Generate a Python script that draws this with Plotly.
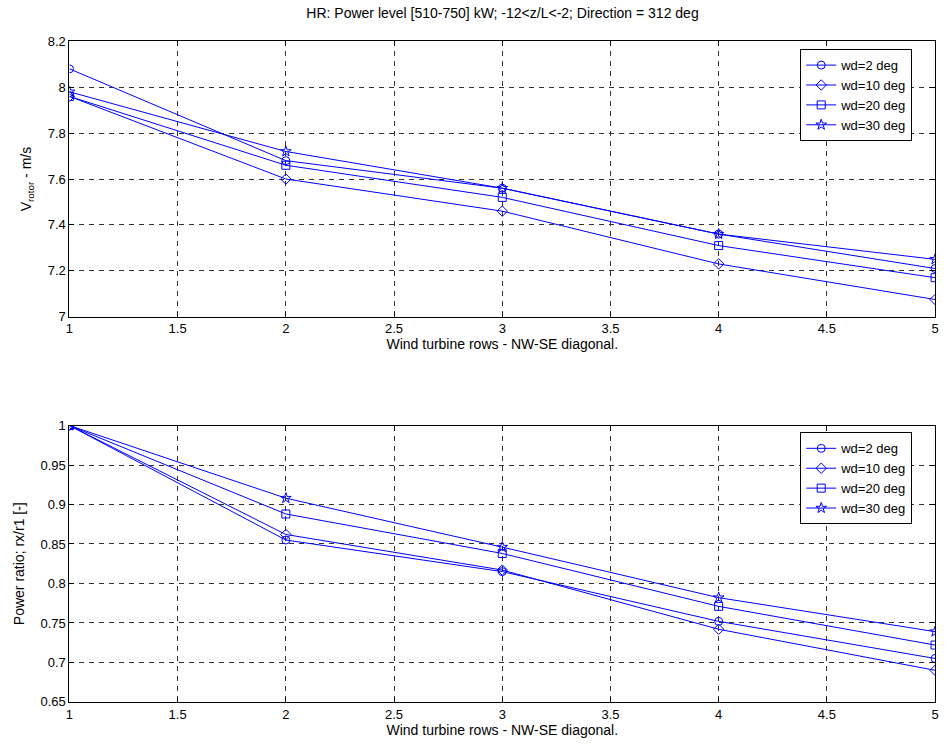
import plotly.graph_objects as go

rows = [1, 2, 3, 4, 5]
names = ["wd=2 deg", "wd=10 deg", "wd=20 deg", "wd=30 deg"]
symbols = ["circle-open", "diamond-open", "square-open", "star-open"]

v_rotor = [
    [8.08, 7.68, 7.56, 7.36, 7.21],
    [7.96, 7.60, 7.46, 7.23, 7.075],
    [7.96, 7.66, 7.52, 7.31, 7.17],
    [7.98, 7.72, 7.56, 7.36, 7.25],
]
power_ratio = [
    [1.0, 0.855, 0.815, 0.752, 0.705],
    [1.0, 0.862, 0.817, 0.742, 0.690],
    [1.0, 0.888, 0.838, 0.771, 0.722],
    [1.0, 0.908, 0.846, 0.782, 0.739],
]

x_ticks = [1, 1.5, 2, 2.5, 3, 3.5, 4, 4.5, 5]
x_ticktext = ["1", "1.5", "2", "2.5", "3", "3.5", "4", "4.5", "5"]
top_ticks = [7, 7.2, 7.4, 7.6, 7.8, 8, 8.2]
top_ticktext = ["7", "7.2", "7.4", "7.6", "7.8", "8", "8.2"]
bot_ticks = [0.65, 0.7, 0.75, 0.8, 0.85, 0.9, 0.95, 1]
bot_ticktext = ["0.65", "0.7", "0.75", "0.8", "0.85", "0.9", "0.95", "1"]

BLUE = "#0000ff"
fig = go.Figure()
for i in range(4):
    fig.add_trace(go.Scatter(x=rows, y=v_rotor[i], mode="lines+markers", name=names[i],
                             line=dict(color=BLUE, width=1),
                             marker=dict(symbol=symbols[i], size=8, color=BLUE, line=dict(width=1, color=BLUE)),
                             xaxis="x", yaxis="y", legend="legend"))
for i in range(4):
    fig.add_trace(go.Scatter(x=rows, y=power_ratio[i], mode="lines+markers", name=names[i],
                             line=dict(color=BLUE, width=1),
                             marker=dict(symbol=symbols[i], size=8, color=BLUE, line=dict(width=1, color=BLUE)),
                             xaxis="x2", yaxis="y2", legend="legend2"))

FAM = "Liberation Sans, Arial, sans-serif"
font = dict(family=FAM, size=13, color="black")
tfont = dict(family=FAM, size=14, color="black")
axcommon = dict(showline=True, linecolor="black", linewidth=1, mirror="ticks",
                ticks="inside", ticklen=5, tickcolor="black",
                showgrid=True, gridcolor="#333333", griddash="5px,5px", gridwidth=1,
                zeroline=False, tickfont=font)

W, H = 949, 755
xd = [66 / W, 939 / W]
fig.update_layout(
    width=W, height=H, margin=dict(l=0, r=0, t=0, b=0),
    paper_bgcolor="white", plot_bgcolor="white", font=font,
    title=dict(text="HR: Power level [510-750] kW; -12<z/L<-2; Direction = 312 deg",
               x=(66 + 939) / 2 / W, xanchor="center", y=1 - 13 / H, yanchor="middle",
               font=dict(family=FAM, size=14, color="black")),
    xaxis=dict(domain=xd, range=[1, 5], tickvals=x_ticks, ticktext=x_ticktext, anchor="y",
               title=dict(text="Wind turbine rows - NW-SE diagonal.", standoff=1, font=tfont), **axcommon),
    yaxis=dict(domain=[1 - 316 / H, 1 - 35 / H], range=[7, 8.2], tickvals=top_ticks, ticktext=top_ticktext,
               anchor="x", title=dict(text="V<sub>rotor</sub> - m/s", standoff=12, font=tfont), **axcommon),
    xaxis2=dict(domain=xd, range=[1, 5], tickvals=x_ticks, ticktext=x_ticktext, anchor="y2",
                title=dict(text="Wind turbine rows - NW-SE diagonal.", standoff=1, font=tfont), **axcommon),
    yaxis2=dict(domain=[1 - 709 / H, 1 - 427 / H], range=[0.65, 1], tickvals=bot_ticks, ticktext=bot_ticktext,
                anchor="x2", title=dict(text="Power ratio; rx/r1 [-]", standoff=12, font=tfont), **axcommon),
    legend=dict(x=803 / W, y=1 - 43 / H, xanchor="left", yanchor="top", bgcolor="white",
                bordercolor="black", borderwidth=1, font=font, tracegroupgap=0, itemwidth=30),
    legend2=dict(x=803 / W, y=1 - 434 / H, xanchor="left", yanchor="top", bgcolor="white",
                 bordercolor="black", borderwidth=1, font=font, tracegroupgap=0, itemwidth=30),
    showlegend=True,
)

fig.write_html("out.html")
